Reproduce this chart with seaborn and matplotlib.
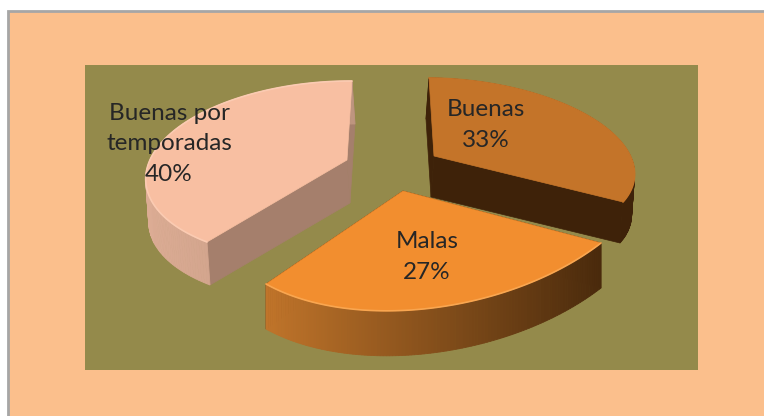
import numpy as np
import matplotlib
matplotlib.use("Agg")
import matplotlib.pyplot as plt
from matplotlib.colors import LinearSegmentedColormap
from matplotlib.patches import Rectangle
import seaborn as sns

categories = ["Buenas", "Malas", "Buenas por\ntemporadas"]
shares = [33, 27, 40]

# colores
top_colors = ["#C47429", "#F28E2F", "#F8BFA2"]
edge_colors = ["#C47429", "#F9A650", "#FBCBB2"]
face_colors = ["#3E2209", "#4A2A0C", "#A57F6C"]
side_left = ["#3E2209", "#C0742A", "#DCAC94"]
side_right = ["#3E2209", "#4A2A0C", "#BE957F"]

# vista 3D: vertice y tres puntos del arco (inicio, medio, fin) de cada porcion, en pixeles
apex = [(434, 156), (403, 191), (347, 160)]
arc_pts = [
    [(429, 78), (595, 120), (623, 202)],
    [(601, 243), (432, 308), (266, 284)],
    [(207, 242), (162, 142), (352, 81)],
]
depth = [(-3, 41), (0, 45), (3, 43)]
label_pos = [(486, 125), (427, 257), (169, 144)]
draw_order = [0, 2, 1]

sns.set_theme(style="white")
plt.rcParams["font.family"] = ["Lato", "DejaVu Sans"]

fig = plt.figure(figsize=(7.64, 4.16), dpi=100, facecolor="white")
fig.add_artist(Rectangle((8 / 764, -1), 2, 2 - 11 / 416, transform=fig.transFigure,
                         facecolor="#FBBF8C", edgecolor="#A6A6A6", linewidth=2, zorder=-1))

ax = fig.add_axes([85 / 764, 1 - 370 / 416, 613 / 764, 305 / 416], facecolor="#948A4B")

# el pie da los angulos de cada porcion
wedges, _ = ax.pie(shares, startangle=90, counterclock=False)
thetas = []
for w in wedges:
    thetas.append((w.theta2, w.theta1))
    w.set_visible(False)

ax.set_aspect("auto")
ax.set_xlim(85, 698)
ax.set_ylim(370, 65)
ax.set_frame_on(True)
ax.set_xticks([])
ax.set_yticks([])
for s in ax.spines.values():
    s.set_visible(False)


def arc_points(i):
    start, end = thetas[i]
    t = np.radians(np.linspace(start, end, 120))
    t3 = np.radians([start, (start + end) / 2, end])
    src = np.column_stack([np.cos(t3), np.sin(t3), np.ones(3)])
    M = np.linalg.solve(src, np.array(arc_pts[i], dtype=float))
    return np.column_stack([np.cos(t), np.sin(t), np.ones(len(t))]) @ M


for n, i in enumerate(draw_order):
    arc = arc_points(i)
    a = np.array(apex[i], dtype=float)
    d = np.array(depth[i], dtype=float)

    # caras planas
    for p in (arc[0], arc[-1]):
        quad = np.array([a, p, p + d, a + d])
        ax.fill(quad[:, 0], quad[:, 1], color=face_colors[i], lw=0.5, zorder=n * 3 + 1)

    # lado curvo con degradado
    cmap = LinearSegmentedColormap.from_list("lado", [side_left[i], side_right[i]])
    x0, x1 = arc[:, 0].min(), arc[:, 0].max()
    for p, q in zip(arc[:-1], arc[1:]):
        quad = np.array([p, q, q + d, p + d])
        c = cmap(((p[0] + q[0]) / 2 - x0) / (x1 - x0))
        ax.fill(quad[:, 0], quad[:, 1], color=c, lw=0.6, zorder=n * 3 + 2)

    # cara superior
    poly = np.vstack([a, arc])
    ax.fill(poly[:, 0], poly[:, 1], color=top_colors[i], lw=0.5, zorder=n * 3 + 3)
    ax.plot(arc[:, 0], arc[:, 1], color=edge_colors[i], lw=1.2, zorder=n * 3 + 3)

for i, name in enumerate(categories):
    ax.text(label_pos[i][0], label_pos[i][1], f"{name}\n{shares[i]}%", ha="center", va="center",
            fontsize=17.5, color="#262626", linespacing=1.55, zorder=20, clip_on=False)

fig.savefig("out.png", dpi=100, facecolor=fig.get_facecolor())
